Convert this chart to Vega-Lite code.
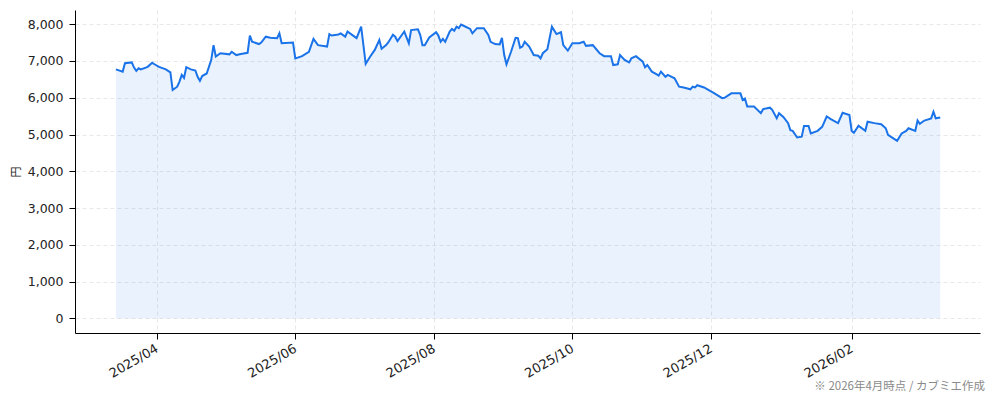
{
  "$schema": "https://vega.github.io/schema/vega-lite/v6.json",
  "width": 905,
  "height": 323,
  "autosize": {"type": "none"},
  "padding": {"left": 75, "top": 10, "right": 14, "bottom": 68},
  "background": "white",
  "config": {
    "view": {"stroke": null},
    "font": "DejaVu Sans",
    "axis": {
      "domainColor": "#000000",
      "domainWidth": 1,
      "tickColor": "#000000",
      "tickSize": 6,
      "labelColor": "#222222",
      "labelFont": "DejaVu Sans",
      "labelFontSize": 12.5,
      "gridColor": "#e2e2e2",
      "gridDash": [4, 3],
      "gridWidth": 0.8
    }
  },
  "title": {
    "text": "※ 2026年4月時点 / カブミエ作成",
    "orient": "bottom",
    "anchor": "end",
    "font": "Noto Sans CJK JP",
    "fontSize": 11.5,
    "fontWeight": "normal",
    "color": "#8a8a8a",
    "offset": 1,
    "dx": 5
  },
  "data": {
    "values": [
      {"date": "2025-03-14", "price": 6770},
      {"date": "2025-03-17", "price": 6710},
      {"date": "2025-03-18", "price": 6940},
      {"date": "2025-03-21", "price": 6960},
      {"date": "2025-03-22", "price": 6820},
      {"date": "2025-03-23", "price": 6730},
      {"date": "2025-03-24", "price": 6800},
      {"date": "2025-03-25", "price": 6770},
      {"date": "2025-03-28", "price": 6840},
      {"date": "2025-03-30", "price": 6950},
      {"date": "2025-03-31", "price": 6910},
      {"date": "2025-04-02", "price": 6840},
      {"date": "2025-04-05", "price": 6770},
      {"date": "2025-04-07", "price": 6690},
      {"date": "2025-04-08", "price": 6210},
      {"date": "2025-04-10", "price": 6300},
      {"date": "2025-04-11", "price": 6440},
      {"date": "2025-04-12", "price": 6620},
      {"date": "2025-04-13", "price": 6540},
      {"date": "2025-04-14", "price": 6830},
      {"date": "2025-04-16", "price": 6770},
      {"date": "2025-04-18", "price": 6740},
      {"date": "2025-04-19", "price": 6570},
      {"date": "2025-04-20", "price": 6460},
      {"date": "2025-04-21", "price": 6590},
      {"date": "2025-04-23", "price": 6660},
      {"date": "2025-04-25", "price": 7030},
      {"date": "2025-04-26", "price": 7430},
      {"date": "2025-04-27", "price": 7120},
      {"date": "2025-04-29", "price": 7210},
      {"date": "2025-05-03", "price": 7180},
      {"date": "2025-05-04", "price": 7250},
      {"date": "2025-05-06", "price": 7160},
      {"date": "2025-05-08", "price": 7190},
      {"date": "2025-05-11", "price": 7220},
      {"date": "2025-05-12", "price": 7690},
      {"date": "2025-05-13", "price": 7520},
      {"date": "2025-05-16", "price": 7460},
      {"date": "2025-05-17", "price": 7500},
      {"date": "2025-05-19", "price": 7660},
      {"date": "2025-05-21", "price": 7630},
      {"date": "2025-05-24", "price": 7620},
      {"date": "2025-05-25", "price": 7750},
      {"date": "2025-05-26", "price": 7480},
      {"date": "2025-05-31", "price": 7500},
      {"date": "2025-06-01", "price": 7070},
      {"date": "2025-06-04", "price": 7130},
      {"date": "2025-06-07", "price": 7250},
      {"date": "2025-06-09", "price": 7600},
      {"date": "2025-06-11", "price": 7430},
      {"date": "2025-06-15", "price": 7390},
      {"date": "2025-06-16", "price": 7730},
      {"date": "2025-06-17", "price": 7690},
      {"date": "2025-06-20", "price": 7720},
      {"date": "2025-06-21", "price": 7750},
      {"date": "2025-06-23", "price": 7660},
      {"date": "2025-06-24", "price": 7800},
      {"date": "2025-06-26", "price": 7710},
      {"date": "2025-06-28", "price": 7620},
      {"date": "2025-06-30", "price": 7930},
      {"date": "2025-07-02", "price": 6920},
      {"date": "2025-07-04", "price": 7120},
      {"date": "2025-07-06", "price": 7300},
      {"date": "2025-07-08", "price": 7570},
      {"date": "2025-07-09", "price": 7330},
      {"date": "2025-07-11", "price": 7430},
      {"date": "2025-07-12", "price": 7510},
      {"date": "2025-07-14", "price": 7710},
      {"date": "2025-07-15", "price": 7660},
      {"date": "2025-07-16", "price": 7540},
      {"date": "2025-07-19", "price": 7800},
      {"date": "2025-07-21", "price": 7480},
      {"date": "2025-07-22", "price": 7840},
      {"date": "2025-07-25", "price": 7860},
      {"date": "2025-07-26", "price": 7710},
      {"date": "2025-07-27", "price": 7430},
      {"date": "2025-07-28", "price": 7430},
      {"date": "2025-07-30", "price": 7640},
      {"date": "2025-08-02", "price": 7780},
      {"date": "2025-08-03", "price": 7690},
      {"date": "2025-08-04", "price": 7520},
      {"date": "2025-08-05", "price": 7600},
      {"date": "2025-08-06", "price": 7520},
      {"date": "2025-08-08", "price": 7800},
      {"date": "2025-08-09", "price": 7870},
      {"date": "2025-08-10", "price": 7820},
      {"date": "2025-08-11", "price": 7930},
      {"date": "2025-08-12", "price": 7890},
      {"date": "2025-08-13", "price": 7990},
      {"date": "2025-08-15", "price": 7930},
      {"date": "2025-08-17", "price": 7870},
      {"date": "2025-08-18", "price": 7750},
      {"date": "2025-08-20", "price": 7890},
      {"date": "2025-08-23", "price": 7890},
      {"date": "2025-08-25", "price": 7710},
      {"date": "2025-08-26", "price": 7520},
      {"date": "2025-08-28", "price": 7460},
      {"date": "2025-08-30", "price": 7450},
      {"date": "2025-08-31", "price": 7630},
      {"date": "2025-09-01", "price": 7160},
      {"date": "2025-09-02", "price": 6910},
      {"date": "2025-09-04", "price": 7250},
      {"date": "2025-09-06", "price": 7630},
      {"date": "2025-09-07", "price": 7620},
      {"date": "2025-09-08", "price": 7360},
      {"date": "2025-09-09", "price": 7390},
      {"date": "2025-09-10", "price": 7520},
      {"date": "2025-09-12", "price": 7390},
      {"date": "2025-09-14", "price": 7160},
      {"date": "2025-09-16", "price": 7140},
      {"date": "2025-09-17", "price": 7070},
      {"date": "2025-09-18", "price": 7210},
      {"date": "2025-09-20", "price": 7320},
      {"date": "2025-09-22", "price": 7930},
      {"date": "2025-09-24", "price": 7730},
      {"date": "2025-09-26", "price": 7780},
      {"date": "2025-09-27", "price": 7430},
      {"date": "2025-09-29", "price": 7280},
      {"date": "2025-10-01", "price": 7480},
      {"date": "2025-10-04", "price": 7480},
      {"date": "2025-10-06", "price": 7520},
      {"date": "2025-10-07", "price": 7410},
      {"date": "2025-10-10", "price": 7430},
      {"date": "2025-10-13", "price": 7210},
      {"date": "2025-10-15", "price": 7130},
      {"date": "2025-10-18", "price": 7130},
      {"date": "2025-10-19", "price": 6890},
      {"date": "2025-10-21", "price": 6910},
      {"date": "2025-10-22", "price": 7160},
      {"date": "2025-10-24", "price": 7030},
      {"date": "2025-10-26", "price": 6960},
      {"date": "2025-10-27", "price": 7070},
      {"date": "2025-10-29", "price": 7130},
      {"date": "2025-11-01", "price": 6980},
      {"date": "2025-11-02", "price": 6830},
      {"date": "2025-11-03", "price": 6890},
      {"date": "2025-11-05", "price": 6710},
      {"date": "2025-11-07", "price": 6640},
      {"date": "2025-11-08", "price": 6600},
      {"date": "2025-11-09", "price": 6710},
      {"date": "2025-11-11", "price": 6570},
      {"date": "2025-11-12", "price": 6620},
      {"date": "2025-11-15", "price": 6530},
      {"date": "2025-11-17", "price": 6300},
      {"date": "2025-11-19", "price": 6280},
      {"date": "2025-11-22", "price": 6230},
      {"date": "2025-11-23", "price": 6300},
      {"date": "2025-11-24", "price": 6280},
      {"date": "2025-11-25", "price": 6340},
      {"date": "2025-11-28", "price": 6280},
      {"date": "2025-12-02", "price": 6140},
      {"date": "2025-12-06", "price": 5990},
      {"date": "2025-12-07", "price": 6000},
      {"date": "2025-12-10", "price": 6120},
      {"date": "2025-12-14", "price": 6120},
      {"date": "2025-12-15", "price": 5940},
      {"date": "2025-12-16", "price": 5980},
      {"date": "2025-12-17", "price": 5760},
      {"date": "2025-12-20", "price": 5760},
      {"date": "2025-12-23", "price": 5580},
      {"date": "2025-12-24", "price": 5690},
      {"date": "2025-12-27", "price": 5730},
      {"date": "2025-12-28", "price": 5670},
      {"date": "2025-12-30", "price": 5440},
      {"date": "2025-12-31", "price": 5580},
      {"date": "2026-01-02", "price": 5470},
      {"date": "2026-01-04", "price": 5310},
      {"date": "2026-01-05", "price": 5120},
      {"date": "2026-01-06", "price": 5100},
      {"date": "2026-01-08", "price": 4920},
      {"date": "2026-01-10", "price": 4940},
      {"date": "2026-01-11", "price": 5230},
      {"date": "2026-01-13", "price": 5230},
      {"date": "2026-01-14", "price": 5030},
      {"date": "2026-01-17", "price": 5100},
      {"date": "2026-01-19", "price": 5210},
      {"date": "2026-01-21", "price": 5490},
      {"date": "2026-01-23", "price": 5410},
      {"date": "2026-01-26", "price": 5310},
      {"date": "2026-01-28", "price": 5590},
      {"date": "2026-01-31", "price": 5530},
      {"date": "2026-02-01", "price": 5100},
      {"date": "2026-02-02", "price": 5050},
      {"date": "2026-02-04", "price": 5240},
      {"date": "2026-02-07", "price": 5100},
      {"date": "2026-02-08", "price": 5350},
      {"date": "2026-02-11", "price": 5310},
      {"date": "2026-02-14", "price": 5280},
      {"date": "2026-02-16", "price": 5170},
      {"date": "2026-02-17", "price": 4990},
      {"date": "2026-02-19", "price": 4910},
      {"date": "2026-02-21", "price": 4830},
      {"date": "2026-02-23", "price": 5030},
      {"date": "2026-02-25", "price": 5100},
      {"date": "2026-02-26", "price": 5170},
      {"date": "2026-03-01", "price": 5100},
      {"date": "2026-03-02", "price": 5380},
      {"date": "2026-03-03", "price": 5290},
      {"date": "2026-03-05", "price": 5380},
      {"date": "2026-03-08", "price": 5440},
      {"date": "2026-03-09", "price": 5620},
      {"date": "2026-03-10", "price": 5440},
      {"date": "2026-03-12", "price": 5460}
    ]
  },
  "encoding": {
    "x": {
      "field": "date",
      "type": "temporal",
      "scale": {"type": "utc", "domain": [1740355200000, 1774785600000], "nice": false},
      "axis": {
        "title": null,
        "values": [1743465600000, 1748736000000, 1754006400000, 1759276800000, 1764547200000, 1769904000000],
        "format": "%Y/%m",
        "labelAngle": -30,
        "labelAlign": "right",
        "labelBaseline": "top",
        "labelFontSize": 13,
        "labelPadding": 3,
        "labelOffset": -3,
        "grid": true
      }
    },
    "y": {
      "field": "price",
      "type": "quantitative",
      "scale": {"domain": [-395, 8385], "nice": false, "zero": false},
      "axis": {
        "title": "円",
        "titleFont": "Noto Sans CJK JP",
        "titleFontSize": 11,
        "titleFontWeight": "normal",
        "titleColor": "#222222",
        "titlePadding": 6,
        "values": [0, 1000, 2000, 3000, 4000, 5000, 6000, 7000, 8000],
        "format": ",d",
        "labelPadding": 6,
        "grid": true
      }
    }
  },
  "layer": [
    {
      "mark": {"type": "area", "color": "#1a73e8", "opacity": 0.09},
      "encoding": {"y2": {"datum": 0}}
    },
    {
      "mark": {"type": "line", "color": "#1a73e8", "strokeWidth": 2}
    }
  ]
}
